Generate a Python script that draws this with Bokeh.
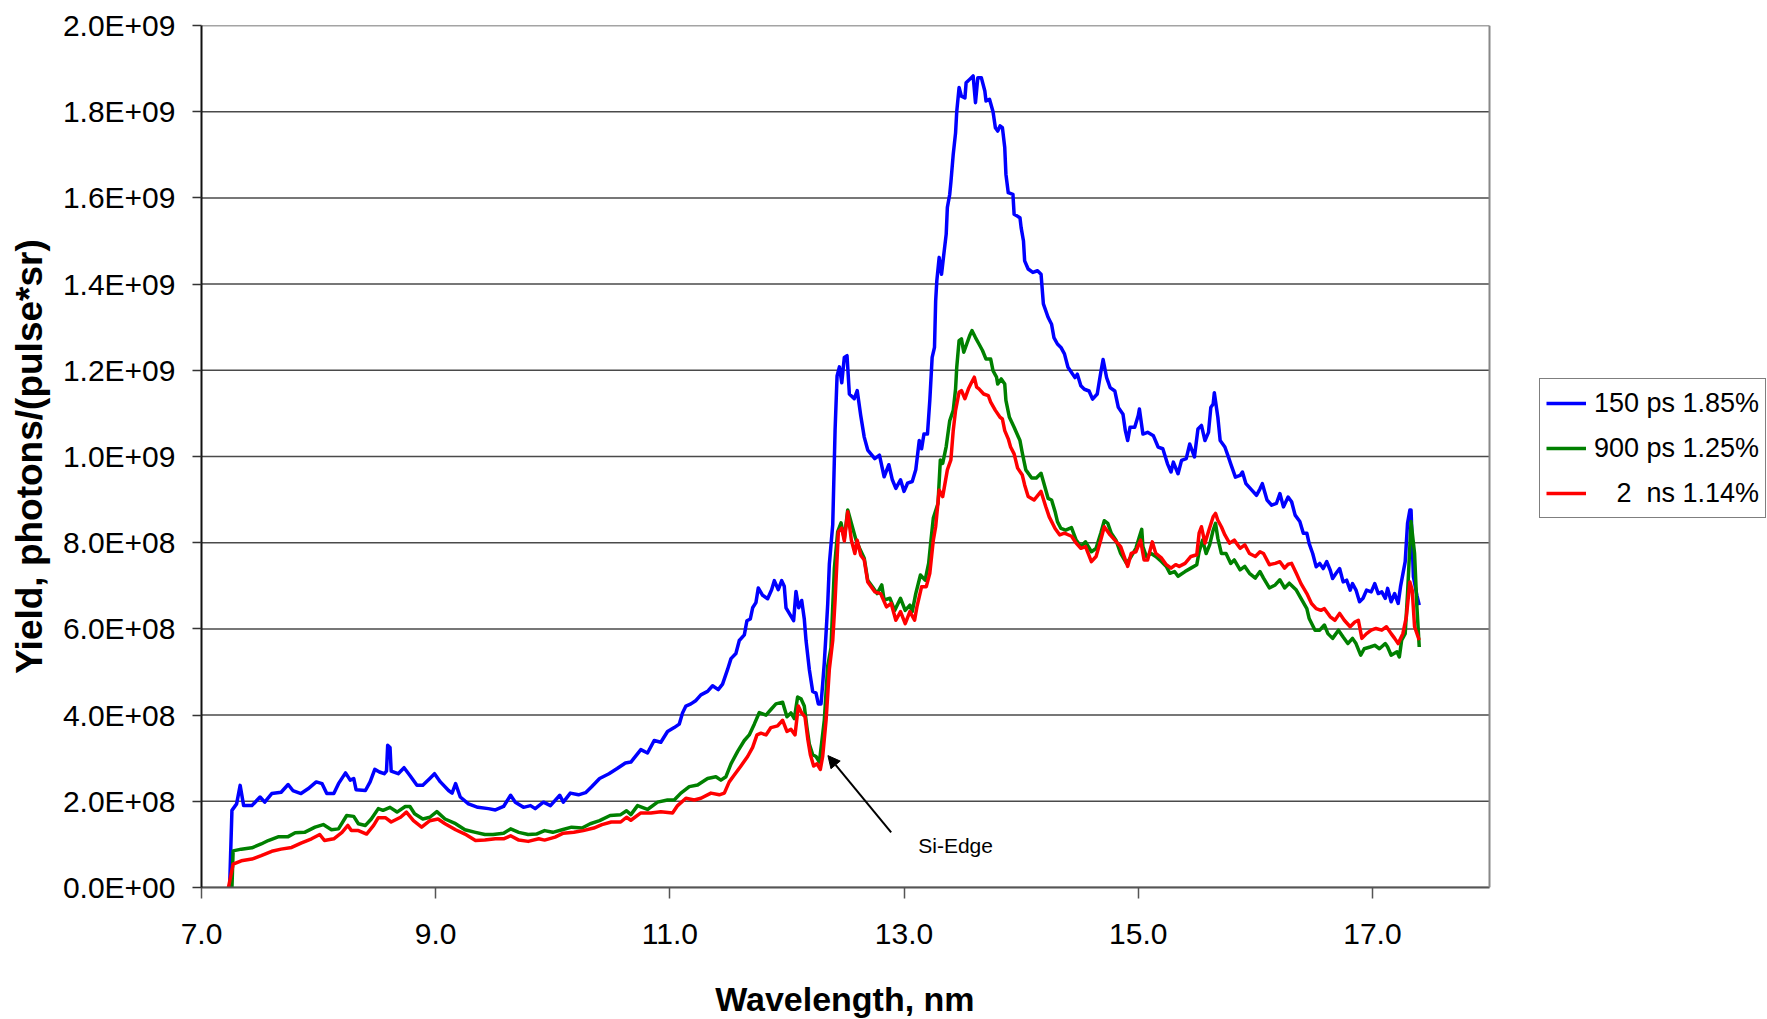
from bokeh.plotting import figure
from bokeh.models import Legend, LegendItem, Arrow, NormalHead, FixedTicker, Label, Range1d, Span, Title
from bokeh.embed import file_html
from bokeh.resources import INLINE
import numpy as np

# ---------------- data (yield in units of 1E+08 photons/(pulse*sr)) ----------------
wl_150ps = [7.24, 7.26, 7.30, 7.33, 7.36, 7.43, 7.50, 7.54, 7.60, 7.68, 7.74, 7.78, 7.85, 7.91, 7.98, 8.03,
            8.07, 8.13, 8.17, 8.23, 8.27, 8.30, 8.32, 8.40, 8.44, 8.48, 8.52, 8.56, 8.58, 8.59, 8.61, 8.62,
            8.68, 8.73, 8.78, 8.84, 8.89, 8.95, 8.99, 9.04, 9.11, 9.14, 9.17, 9.21, 9.28, 9.36, 9.45, 9.51,
            9.58, 9.64, 9.68, 9.75, 9.81, 9.85, 9.92, 9.98, 10.06, 10.09, 10.15, 10.22, 10.28, 10.33, 10.40,
            10.48, 10.55, 10.62, 10.667, 10.752, 10.809, 10.866, 10.923, 10.980, 11.037, 11.080, 11.108,
            11.137, 11.180, 11.223, 11.265, 11.322, 11.365, 11.413, 11.450, 11.493, 11.522, 11.564, 11.593,
            11.636, 11.658, 11.687, 11.707, 11.735, 11.755, 11.792, 11.835, 11.869, 11.892, 11.926, 11.955,
            11.977, 11.992, 12.029, 12.057, 12.077, 12.100, 12.126, 12.148, 12.163, 12.191, 12.220, 12.248,
            12.268, 12.291, 12.305, 12.319, 12.334, 12.348, 12.362, 12.391, 12.411, 12.428, 12.448, 12.468,
            12.490, 12.513, 12.533, 12.575, 12.60, 12.63, 12.66, 12.69, 12.75, 12.79, 12.83, 12.87, 12.90,
            12.93, 12.97, 13.00, 13.03, 13.07, 13.10, 13.13, 13.15, 13.17, 13.20, 13.22, 13.24, 13.26, 13.27,
            13.28, 13.30, 13.32, 13.34, 13.36, 13.37, 13.39, 13.40, 13.42, 13.44, 13.45, 13.47, 13.49, 13.52,
            13.53, 13.56, 13.59, 13.61, 13.63, 13.66, 13.69, 13.70, 13.73, 13.76, 13.78, 13.80, 13.82, 13.84,
            13.86, 13.87, 13.89, 13.93, 13.94, 13.99, 14.00, 14.02, 14.03, 14.06, 14.10, 14.14, 14.17, 14.19,
            14.23, 14.26, 14.28, 14.31, 14.34, 14.37, 14.40, 14.46, 14.48, 14.51, 14.54, 14.58, 14.61, 14.65,
            14.68, 14.70, 14.73, 14.76, 14.80, 14.83, 14.87, 14.89, 14.91, 14.93, 14.97, 15.00, 15.01, 15.04,
            15.08, 15.13, 15.17, 15.21, 15.25, 15.28, 15.30, 15.34, 15.37, 15.41, 15.44, 15.48, 15.51, 15.54,
            15.57, 15.60, 15.62, 15.64, 15.65, 15.68, 15.70, 15.74, 15.77, 15.79, 15.83, 15.87, 15.89, 15.92,
            15.97, 16.01, 16.04, 16.06, 16.10, 16.14, 16.18, 16.21, 16.24, 16.28, 16.31, 16.34, 16.38, 16.41,
            16.44, 16.46, 16.49, 16.52, 16.55, 16.58, 16.61, 16.64, 16.66, 16.69, 16.72, 16.75, 16.78, 16.81,
            16.83, 16.86, 16.89, 16.92, 16.95, 16.99, 17.02, 17.05, 17.08, 17.11, 17.13, 17.16, 17.19, 17.22,
            17.24, 17.28, 17.30, 17.32, 17.33, 17.35, 17.38, 17.40]
yield_150ps = [0.0, 1.79, 1.94, 2.37, 1.90, 1.90, 2.10, 1.98, 2.18, 2.21, 2.39, 2.25, 2.18, 2.29, 2.45, 2.41,
               2.18, 2.18, 2.41, 2.66, 2.49, 2.53, 2.27, 2.25, 2.45, 2.74, 2.68, 2.64, 2.70, 3.30, 3.25, 2.70,
               2.64, 2.78, 2.60, 2.37, 2.37, 2.53, 2.64, 2.45, 2.25, 2.19, 2.41, 2.10, 1.94, 1.86, 1.83, 1.80,
               1.88, 2.14, 1.98, 1.86, 1.90, 1.83, 1.98, 1.90, 2.14, 1.98, 2.19, 2.15, 2.20, 2.33, 2.53,
               2.64, 2.76, 2.89, 2.91, 3.20, 3.12, 3.41, 3.37, 3.62, 3.71, 3.79, 4.05,
               4.21, 4.26, 4.34, 4.47, 4.55, 4.68, 4.59, 4.72, 5.06, 5.31, 5.43, 5.73,
               5.86, 6.19, 6.23, 6.49, 6.61, 6.95, 6.78, 6.70, 6.91, 7.12, 6.91, 7.12,
               6.99, 6.49, 6.32, 6.19, 6.87, 6.49, 6.66, 6.23, 5.73, 5.06, 4.55, 4.51,
               4.26, 4.26, 4.72, 5.22, 5.90, 6.57, 7.50, 8.42, 10.61, 11.87, 12.08, 11.71,
               12.30, 12.34, 11.45, 11.34, 11.53, 10.95, 10.45, 10.15, 9.95, 10.03, 9.53, 9.81, 9.46,
               9.26, 9.46, 9.19, 9.38, 9.42, 9.69, 10.37, 10.18, 10.52, 10.52, 11.30, 12.30, 12.53, 13.61,
               14.08, 14.62, 14.23, 14.70, 15.16, 15.78, 16.08, 16.36, 17.01, 17.51, 18.00, 18.56, 18.36, 18.32,
               18.67, 18.75, 18.83, 18.21, 18.79, 18.79, 18.48, 18.25, 18.29, 18.00, 17.63, 17.55, 17.67, 17.63,
               17.17, 16.55, 16.12, 16.08, 15.62, 15.54, 15.31, 15.00, 14.54, 14.35, 14.27, 14.31, 14.23, 13.54,
               13.23, 13.07, 12.76, 12.61, 12.53, 12.38, 12.07, 11.83, 11.91, 11.64, 11.56, 11.52, 11.33, 11.45,
               11.95, 12.25, 11.83, 11.60, 11.52, 11.14, 10.98, 10.60, 10.37, 10.68, 10.68, 10.95, 11.10, 10.52,
               10.56, 10.48, 10.22, 10.18, 9.83, 9.64, 9.87, 9.60, 9.91, 9.95, 10.29, 9.99, 10.64, 10.72,
               10.37, 10.56, 11.14, 11.22, 11.48, 10.91, 10.37, 10.22, 9.99, 9.83, 9.52, 9.56, 9.64, 9.37,
               9.22, 9.10, 9.25, 9.37, 8.99, 8.87, 8.91, 9.14, 8.83, 9.06, 8.95, 8.64, 8.49, 8.22,
               8.22, 7.98, 7.75, 7.44, 7.52, 7.40, 7.56, 7.36, 7.17, 7.29, 7.40, 7.09, 7.13, 6.90,
               7.05, 6.90, 6.63, 6.71, 6.90, 6.86, 7.05, 6.82, 6.86, 6.71, 6.94, 6.63, 6.82, 6.59,
               6.98, 7.56, 8.45, 8.76, 8.76, 7.21, 6.78, 6.55]

wl_900ps = [7.26, 7.27, 7.34, 7.43, 7.51, 7.57, 7.66, 7.74, 7.80, 7.88, 7.97, 8.04, 8.11, 8.17, 8.24, 8.30,
            8.34, 8.40, 8.45, 8.51, 8.55, 8.61, 8.67, 8.74, 8.78, 8.82, 8.89, 8.95, 9.01, 9.08, 9.17, 9.25,
            9.34, 9.42, 9.49, 9.58, 9.64, 9.71, 9.79, 9.86, 9.93, 10.00, 10.08, 10.16, 10.25, 10.32, 10.40,
            10.49, 10.58, 10.63, 10.667, 10.724, 10.809, 10.895, 10.980, 11.037, 11.094, 11.166, 11.237,
            11.322, 11.393, 11.436, 11.479, 11.522, 11.579, 11.636, 11.678, 11.721, 11.764, 11.821, 11.863,
            11.906, 11.963, 12.000, 12.034, 12.063, 12.091, 12.120, 12.148, 12.171, 12.191, 12.220, 12.248,
            12.277, 12.297, 12.319, 12.348, 12.376, 12.405, 12.433, 12.462, 12.490, 12.519, 12.59, 12.62,
            12.66, 12.69, 12.73, 12.77, 12.81, 12.83, 12.88, 12.92, 12.97, 13.01, 13.05, 13.07, 13.10, 13.14,
            13.18, 13.21, 13.23, 13.25, 13.29, 13.31, 13.33, 13.36, 13.39, 13.42, 13.44, 13.45, 13.47, 13.49,
            13.51, 13.53, 13.56, 13.58, 13.61, 13.64, 13.67, 13.70, 13.74, 13.76, 13.79, 13.80, 13.83, 13.86,
            13.87, 13.90, 13.94, 13.99, 14.01, 14.04, 14.09, 14.13, 14.17, 14.19, 14.23, 14.26, 14.29, 14.31,
            14.34, 14.38, 14.43, 14.47, 14.51, 14.55, 14.60, 14.64, 14.68, 14.71, 14.74, 14.77, 14.81, 14.85,
            14.90, 14.94, 14.98, 15.01, 15.03, 15.04, 15.07, 15.11, 15.15, 15.20, 15.24, 15.27, 15.31, 15.34,
            15.40, 15.45, 15.50, 15.52, 15.55, 15.58, 15.61, 15.64, 15.66, 15.68, 15.71, 15.75, 15.79, 15.82,
            15.87, 15.91, 15.95, 16.00, 16.04, 16.07, 16.12, 16.17, 16.21, 16.25, 16.29, 16.35, 16.39, 16.44,
            16.46, 16.51, 16.55, 16.59, 16.62, 16.66, 16.71, 16.75, 16.79, 16.83, 16.86, 16.90, 16.93, 16.98,
            17.02, 17.06, 17.11, 17.13, 17.16, 17.21, 17.23, 17.25, 17.28, 17.30, 17.33, 17.36, 17.38, 17.40]
yield_900ps = [0.0, 0.85, 0.89, 0.92, 1.01, 1.09, 1.18, 1.18, 1.27, 1.28, 1.40, 1.46, 1.34, 1.36, 1.67, 1.65,
               1.48, 1.44, 1.59, 1.83, 1.79, 1.86, 1.75, 1.88, 1.88, 1.71, 1.59, 1.63, 1.76, 1.59, 1.48, 1.34,
               1.28, 1.23, 1.23, 1.26, 1.36, 1.28, 1.23, 1.24, 1.32, 1.28, 1.34, 1.40, 1.38, 1.48, 1.55,
               1.67, 1.69, 1.78, 1.69, 1.90, 1.81, 1.98, 2.03, 2.03, 2.19, 2.34, 2.38,
               2.53, 2.57, 2.49, 2.57, 2.87, 3.16, 3.41, 3.54, 3.79, 4.06, 4.00, 4.13,
               4.26, 4.30, 3.96, 4.05, 3.92, 4.42, 4.38, 4.21, 3.71, 3.33, 3.08, 3.04,
               2.91, 3.37, 3.88, 5.14, 5.56, 7.41, 8.25, 8.46, 8.09, 8.76, 8.06, 7.87,
               7.64, 7.13, 6.98, 6.82, 7.02, 6.67, 6.71, 6.43, 6.71, 6.43, 6.55, 6.40, 6.82, 7.25,
               7.13, 7.52, 8.06, 8.57, 8.91, 9.92, 9.84, 10.23, 10.83, 11.07, 11.57, 12.07, 12.69, 12.73,
               12.42, 12.57, 12.80, 12.92, 12.76, 12.61, 12.46, 12.26, 12.26, 11.99, 11.84, 11.68, 11.80, 11.68,
               11.30, 10.91, 10.68, 10.37, 10.08, 9.69, 9.50, 9.50, 9.61, 9.42, 9.03, 8.99, 8.72, 8.49,
               8.33, 8.29, 8.35, 8.06, 7.91, 8.02, 7.79, 7.87, 8.22, 8.51, 8.45, 8.22, 8.06, 7.75,
               7.52, 7.68, 7.87, 8.14, 8.31, 7.91, 7.68, 7.75, 7.68, 7.56, 7.45, 7.29, 7.33, 7.22,
               7.33, 7.41, 7.49, 7.79, 8.06, 7.75, 7.95, 8.29, 8.45, 8.10, 7.75, 7.75, 7.52, 7.60,
               7.37, 7.45, 7.29, 7.18, 7.33, 7.18, 6.95, 7.02, 7.14, 6.95, 7.06, 6.90, 6.71, 6.47,
               6.24, 5.97, 5.97, 6.09, 5.89, 5.78, 5.97, 5.81, 5.66, 5.78, 5.66, 5.39, 5.54, 5.58,
               5.62, 5.54, 5.66, 5.58, 5.39, 5.47, 5.35, 5.74, 5.89, 6.82, 8.49, 7.75, 6.51, 5.58]

wl_2ns = [7.23, 7.27, 7.34, 7.43, 7.51, 7.60, 7.68, 7.77, 7.85, 7.94, 8.01, 8.05, 8.13, 8.20, 8.25, 8.28,
          8.34, 8.41, 8.47, 8.51, 8.57, 8.62, 8.70, 8.75, 8.81, 8.88, 8.95, 9.02, 9.08, 9.17, 9.25, 9.34,
          9.42, 9.51, 9.58, 9.64, 9.71, 9.79, 9.88, 9.93, 10.02, 10.09, 10.18, 10.26, 10.35, 10.42, 10.50,
          10.58, 10.63, 10.667, 10.752, 10.838, 10.923, 11.023, 11.066, 11.137, 11.208, 11.265, 11.351,
          11.422, 11.465, 11.507, 11.550, 11.607, 11.664, 11.707, 11.744, 11.778, 11.821, 11.863, 11.920,
          11.963, 12.000, 12.034, 12.069, 12.097, 12.126, 12.154, 12.177, 12.200, 12.228, 12.257, 12.285,
          12.305, 12.334, 12.362, 12.391, 12.411, 12.439, 12.468, 12.490, 12.519, 12.55, 12.58, 12.60,
          12.63, 12.66, 12.69, 12.75, 12.80, 12.85, 12.89, 12.93, 12.97, 13.01, 13.05, 13.09, 13.11, 13.15,
          13.19, 13.22, 13.25, 13.27, 13.30, 13.33, 13.37, 13.40, 13.42, 13.44, 13.47, 13.49, 13.52, 13.55,
          13.57, 13.60, 13.62, 13.64, 13.68, 13.72, 13.74, 13.78, 13.82, 13.84, 13.86, 13.89, 13.91, 13.94,
          13.97, 14.01, 14.03, 14.06, 14.11, 14.17, 14.21, 14.24, 14.29, 14.33, 14.37, 14.43, 14.47, 14.51,
          14.55, 14.60, 14.64, 14.68, 14.71, 14.76, 14.80, 14.85, 14.91, 14.94, 14.98, 15.02, 15.05, 15.08,
          15.12, 15.15, 15.20, 15.24, 15.28, 15.32, 15.35, 15.40, 15.45, 15.50, 15.52, 15.54, 15.57, 15.60,
          15.64, 15.66, 15.68, 15.71, 15.74, 15.78, 15.82, 15.87, 15.91, 15.95, 16.00, 16.04, 16.07, 16.12,
          16.17, 16.21, 16.25, 16.28, 16.31, 16.35, 16.39, 16.44, 16.48, 16.52, 16.56, 16.59, 16.64, 16.68,
          16.72, 16.76, 16.81, 16.85, 16.88, 16.91, 16.95, 16.99, 17.03, 17.08, 17.12, 17.16, 17.19, 17.22,
          17.26, 17.29, 17.32, 17.34, 17.36, 17.40]
yield_2ns = [0.0, 0.54, 0.62, 0.66, 0.74, 0.84, 0.89, 0.93, 1.03, 1.13, 1.23, 1.09, 1.13, 1.28, 1.44, 1.32,
             1.32, 1.24, 1.44, 1.62, 1.62, 1.52, 1.63, 1.75, 1.55, 1.40, 1.55, 1.59, 1.48, 1.34, 1.24, 1.09,
             1.10, 1.13, 1.13, 1.20, 1.10, 1.07, 1.13, 1.10, 1.17, 1.26, 1.28, 1.32, 1.38, 1.46, 1.52,
             1.52, 1.63, 1.56, 1.73, 1.73, 1.76, 1.73, 1.90, 2.07, 2.03, 2.07, 2.19,
             2.15, 2.19, 2.45, 2.61, 2.82, 3.04, 3.25, 3.54, 3.58, 3.54, 3.71, 3.75,
             3.88, 3.62, 3.67, 3.54, 4.21, 4.05, 3.96, 3.46, 3.08, 2.82, 2.87, 2.74,
             3.04, 3.88, 5.06, 5.73, 6.66, 8.25, 8.34, 8.04, 8.72, 8.06, 7.75, 8.06,
             7.71, 7.60, 7.09, 6.86, 6.82, 6.51, 6.59, 6.20, 6.40, 6.12, 6.40, 6.20, 6.51, 6.98,
             6.98, 7.29, 8.06, 8.37, 9.22, 9.07, 9.69, 9.92, 10.60, 11.07, 11.49, 11.53, 11.34, 11.57,
             11.68, 11.84, 11.61, 11.57, 11.45, 11.41, 11.26, 11.07, 10.91, 10.87, 10.60, 10.41, 10.22, 10.06,
             9.73, 9.57, 9.34, 9.07, 8.99, 9.19, 8.84, 8.60, 8.33, 8.18, 8.22, 8.15, 7.99, 7.87,
             7.91, 7.56, 7.68, 8.06, 8.37, 8.18, 8.06, 7.91, 7.45, 7.75, 7.79, 8.06, 7.60, 7.60,
             8.02, 7.75, 7.64, 7.49, 7.41, 7.49, 7.45, 7.52, 7.68, 7.72, 8.22, 8.37, 7.99, 8.26,
             8.60, 8.68, 8.52, 8.37, 8.18, 7.99, 8.06, 7.87, 7.95, 7.75, 7.68, 7.79, 7.75, 7.49,
             7.52, 7.56, 7.41, 7.50, 7.52, 7.29, 7.05, 6.82, 6.59, 6.47, 6.43, 6.47, 6.28, 6.20,
             6.36, 6.20, 6.05, 6.16, 6.20, 5.78, 5.89, 5.97, 6.01, 5.97, 6.05, 5.89, 5.78, 5.66,
             5.89, 6.28, 7.09, 6.90, 6.05, 5.74]

series_labels = ["150 ps 1.85%", "900 ps 1.25%", "\u00a0\u00a0\u00a02\u00a0\u00a0ns 1.14%"]
series_colors = ["#0000FF", "#008000", "#FF0000"]

x_min, x_max = 7, 18
x_ticks = [7, 9, 11, 13, 15, 17]
x_tick_labels = ["7.0", "9.0", "11.0", "13.0", "15.0", "17.0"]
y_ticks = [0, 200000000, 400000000, 600000000, 800000000, 1000000000,
           1200000000, 1400000000, 1600000000, 1800000000, 2000000000]
y_tick_labels = ["0.0E+00", "2.0E+08", "4.0E+08", "6.0E+08", "8.0E+08", "1.0E+09",
                 "1.2E+09", "1.4E+09", "1.6E+09", "1.8E+09", "2.0E+09"]
x_title = "Wavelength, nm"
y_title = "Yield, photons/(pulse*sr)"

# annotation (data coordinates)
note_text = "Si-Edge"
note_x, note_y = 13.44, 0.97e8
arrow_tail = (12.89, 1.28e8)
arrow_head = (12.35, 3.06e8)

UNIT = 1e8
FONT = "Liberation Sans"

# geometry: plot box 201..1489 px wide for 7..18 nm; the frame is extended to the page edge so the
# legend (which sits right of the plot box) is not clipped
W, H = 1767, 1019
LEFT, TOP, BOTTOM = 201, 25, 132
BOX_RIGHT = 1489
px_per_nm = (BOX_RIGHT - LEFT) / (x_max - x_min)
x_view_end = x_min + (W - LEFT) / px_per_nm
XT_SIZE = 34
x_title_width = 7.668 * XT_SIZE          # approx. advance width of the bold title
x_title_offset = (BOX_RIGHT - LEFT) / 2 - x_title_width / 2

p = figure(width=W, height=H, x_range=Range1d(x_min, x_view_end), y_range=Range1d(0, 2e9),
           output_backend="svg", toolbar_location=None,
           min_border_left=LEFT, min_border_right=0, min_border_top=TOP, min_border_bottom=BOTTOM)
p.background_fill_color = "white"
p.border_fill_color = "white"
p.outline_line_color = None

# horizontal grid lines limited to the plot box
p.xgrid.grid_line_color = None
p.ygrid.grid_line_color = None
p.segment(x0=[x_min] * len(y_ticks), y0=y_ticks, x1=[x_max] * len(y_ticks), y1=y_ticks,
          line_color="#4a4a4a", line_width=1.5)
p.add_layout(Span(location=x_max, dimension="height", line_color="#888888", line_width=2))

renderers = []
for xs, ys, col in [(wl_150ps, yield_150ps, series_colors[0]),
                    (wl_900ps, yield_900ps, series_colors[1]),
                    (wl_2ns, yield_2ns, series_colors[2])]:
    r = p.line(xs, list(np.array(ys) * UNIT), line_color=col, line_width=3.5, line_join="round")
    renderers.append(r)

# axes
p.xaxis.ticker = FixedTicker(ticks=x_ticks)
p.xaxis.major_label_overrides = dict(zip(x_ticks, x_tick_labels))
p.xaxis.bounds = (x_min, x_max)
p.yaxis.ticker = FixedTicker(ticks=y_ticks)
p.yaxis.major_label_overrides = dict(zip(y_ticks, y_tick_labels))

for ax in (p.xaxis[0], p.yaxis[0]):
    ax.major_label_text_font = FONT
    ax.major_label_text_font_size = "30px"
    ax.major_label_text_color = "black"
    ax.minor_tick_line_color = None
    ax.major_tick_in = 0
    ax.axis_label_text_font = FONT
    ax.axis_label_text_font_style = "bold"
    ax.axis_label_text_color = "black"

p.xaxis.axis_line_color = "#555555"
p.xaxis.axis_line_width = 2
p.xaxis.major_tick_line_color = "#555555"
p.xaxis.major_tick_line_width = 1.5
p.xaxis.major_tick_out = 11
p.xaxis.major_label_standoff = 25
# blank spacer label: only reserves room so that the title below sits lower
p.xaxis.axis_label = "\u00a0"
p.xaxis.axis_label_text_font_size = "22px"
p.xaxis.axis_label_standoff = 3

p.yaxis.axis_label = y_title
p.yaxis.axis_label_text_font_size = "37px"
p.yaxis.axis_line_color = "#111111"
p.yaxis.axis_line_width = 2
p.yaxis.major_tick_line_color = "#333333"
p.yaxis.major_tick_line_width = 1.5
p.yaxis.major_tick_out = 9
p.yaxis.major_label_standoff = 17
p.yaxis.axis_label_standoff = 10

# x-axis title centred under the plot box
xt = Title(text=x_title, align="left", offset=x_title_offset, text_font=FONT,
           text_font_size=f"{XT_SIZE}px", text_font_style="bold", text_color="black", standoff=0)
p.add_layout(xt, "below")

# annotation
p.add_layout(Arrow(end=NormalHead(size=12, fill_color="black", line_color="black"),
                   x_start=arrow_tail[0], y_start=arrow_tail[1],
                   x_end=arrow_head[0], y_end=arrow_head[1],
                   line_color="black", line_width=2))
p.add_layout(Label(x=note_x, y=note_y, text=note_text, text_align="center", text_baseline="middle",
                   text_font=FONT, text_font_size="21px", text_color="black"))

legend = Legend(items=[LegendItem(label=lab, renderers=[r]) for lab, r in zip(series_labels, renderers)],
                location=(1338, 369))
legend.border_line_color = "black"
legend.border_line_width = 1.5
legend.background_fill_color = "white"
legend.label_text_font = FONT
legend.label_text_font_size = "27px"
legend.label_text_color = "black"
legend.glyph_width = 40
legend.glyph_height = 20
legend.label_height = 36
legend.spacing = 9
legend.padding = 6
legend.margin = 0
legend.label_standoff = 8
p.add_layout(legend, "center")

open("out.html", "w").write(file_html(p, INLINE))
